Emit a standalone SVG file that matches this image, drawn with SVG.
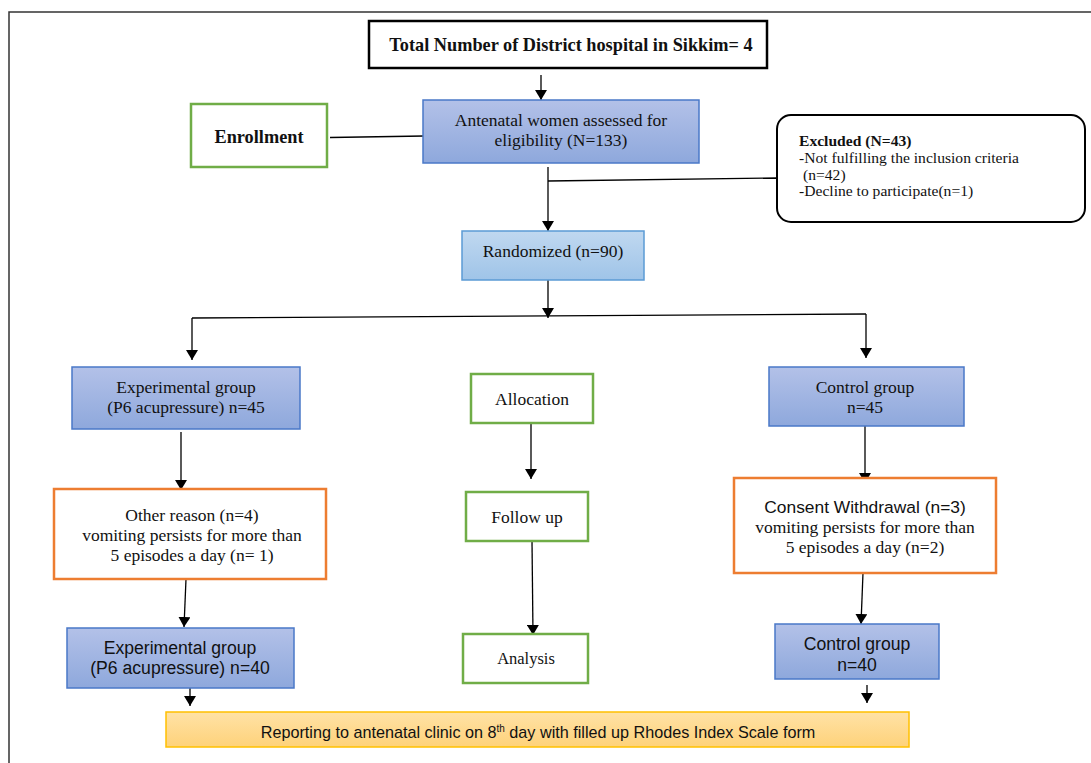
<svg xmlns="http://www.w3.org/2000/svg" width="1091" height="763" viewBox="0 0 1091 763">
<defs>
<linearGradient id="gBlue" x1="0" y1="0" x2="0" y2="1"><stop offset="0" stop-color="#b3c1e8"/><stop offset="1" stop-color="#8ea8dc"/></linearGradient>
<linearGradient id="gLight" x1="0" y1="0" x2="0" y2="1"><stop offset="0" stop-color="#c0d8f0"/><stop offset="1" stop-color="#9fc4e8"/></linearGradient>
<linearGradient id="gYellow" x1="0" y1="0" x2="0" y2="1"><stop offset="0" stop-color="#ffe2a6"/><stop offset="1" stop-color="#fed27a"/></linearGradient>
<marker id="arr" viewBox="0 0 10 12" refX="10" refY="6" markerWidth="10" markerHeight="12" markerUnits="userSpaceOnUse" orient="auto"><path d="M0,0 L10,6 L0,12 Z" fill="#000"/></marker>
</defs>
<style>
.serif{font-family:"Liberation Serif","Times New Roman",serif;font-size:17.5px;fill:#111;text-anchor:middle}
.bold{font-weight:bold;font-size:18.3px}
.sans{font-family:"Liberation Sans",Arial,sans-serif;fill:#111;text-anchor:middle;font-size:17.6px}
.blue{fill:url(#gBlue);stroke:#4a78c8;stroke-width:1.5}
.light{fill:url(#gLight);stroke:#5b9bd5;stroke-width:1.5}
.green{fill:#fff;stroke:#70ad47;stroke-width:2.5}
.orange{fill:#fff;stroke:#ed7d31;stroke-width:2.5}
.conn line{stroke:#000;stroke-width:1.3}
.arrow{marker-end:url(#arr)}
.exc{font-family:"Liberation Serif","Times New Roman",serif;font-size:15.6px;fill:#111}
</style>
<rect width="1091" height="763" fill="#fff"/>
<path d="M9,763 V12 H1091" fill="none" stroke="#333" stroke-width="1.5"/>

<g id="connectors" class="conn">
<line class="arrow" x1="541" y1="75" x2="541" y2="100"/>
<line x1="330" y1="137.5" x2="424" y2="136" stroke="#444"/>
<line class="arrow" x1="548" y1="167" x2="548" y2="231"/>
<line x1="548" y1="181" x2="777" y2="178" stroke="#444"/>
<line class="arrow" x1="548" y1="280" x2="548" y2="318"/>
<line x1="192" y1="318" x2="866" y2="314"/>
<line class="arrow" x1="192" y1="318" x2="192" y2="360"/>
<line class="arrow" x1="866" y1="314" x2="866" y2="358"/>
<line class="arrow" x1="181" y1="432" x2="181" y2="490"/>
<line class="arrow" x1="531" y1="423" x2="531" y2="479"/>
<line class="arrow" x1="865" y1="426" x2="865" y2="483"/>
<line class="arrow" x1="186" y1="579" x2="184" y2="627"/>
<line class="arrow" x1="532" y1="541" x2="533" y2="635"/>
<line class="arrow" x1="863" y1="573" x2="861" y2="624"/>
<line class="arrow" x1="190" y1="688" x2="190" y2="706"/>
<line class="arrow" x1="867" y1="685" x2="867" y2="703"/>
</g>

<g id="total">
<rect x="369" y="21" width="398" height="47" fill="#fff" stroke="#000" stroke-width="2.5"/>
<text class="serif bold" x="571" y="51">Total Number of District hospital in Sikkim= 4</text>
</g>

<g id="enrollment">
<rect class="green" x="191" y="104" width="136" height="63"/>
<text class="serif bold" x="259" y="143">Enrollment</text>
</g>

<g id="assessed">
<rect class="blue" x="423" y="100" width="276" height="63"/>
<text class="serif" x="561" y="126">Antenatal women assessed for</text>
<text class="serif" x="561" y="146">eligibility (N=133)</text>
</g>

<g id="excluded">
<rect x="777" y="115" width="308" height="107" rx="14" fill="#fff" stroke="#000" stroke-width="2"/>
<text class="exc" x="799" y="146" font-weight="bold">Excluded (N=43)</text>
<text class="exc" x="799" y="163">-Not fulfilling the inclusion criteria</text>
<text class="exc" x="803" y="180">(n=42)</text>
<text class="exc" x="799" y="196">-Decline to participate(n=1)</text>
</g>

<g id="randomized">
<rect class="light" x="462" y="231" width="182" height="49"/>
<text class="serif" x="553" y="257">Randomized (n=90)</text>
</g>

<g id="exp45">
<rect class="blue" x="72" y="367" width="228" height="62"/>
<text class="serif" x="186" y="393">Experimental group</text>
<text class="serif" x="186" y="413">(P6 acupressure) n=45</text>
</g>

<g id="allocation">
<rect class="green" x="471" y="374" width="122" height="49"/>
<text class="serif" x="532" y="405">Allocation</text>
</g>

<g id="ctrl45">
<rect class="blue" x="769" y="367" width="195" height="59"/>
<text class="serif" x="865" y="393">Control group</text>
<text class="serif" x="865" y="413">n=45</text>
</g>

<g id="otherreason">
<rect class="orange" x="54" y="489" width="272" height="90"/>
<text class="serif" x="192" y="521">Other reason (n=4)</text>
<text class="serif" x="192" y="541">vomiting persists for more than</text>
<text class="serif" x="192" y="561">5 episodes a day (n= 1)</text>
</g>

<g id="followup">
<rect class="green" x="466" y="492" width="122" height="49"/>
<text class="serif" x="527" y="523">Follow up</text>
</g>

<g id="consent">
<rect class="orange" x="734" y="478" width="262" height="95"/>
<text class="sans" x="865" y="513" style="font-size:17.4px">Consent Withdrawal (n=3)</text>
<text class="serif" x="865" y="533">vomiting persists for more than</text>
<text class="serif" x="865" y="553">5 episodes a day (n=2)</text>
</g>

<g id="exp40">
<rect class="blue" x="67" y="628" width="227" height="60"/>
<text class="sans" x="180" y="654">Experimental group</text>
<text class="sans" x="180" y="674">(P6 acupressure) n=40</text>
</g>

<g id="analysis">
<rect class="green" x="463" y="634" width="125" height="49"/>
<text class="serif" x="526" y="664" style="font-size:16.5px">Analysis</text>
</g>

<g id="ctrl40">
<rect class="blue" x="775" y="624" width="164" height="55"/>
<text class="sans" x="857" y="650">Control group</text>
<text class="sans" x="857" y="671">n=40</text>
</g>

<g id="reporting">
<rect x="166" y="712" width="743" height="35" fill="url(#gYellow)" stroke="#ffc000" stroke-width="1.5"/>
<text class="sans" x="538" y="737.5" style="font-size:16.2px">Reporting to antenatal clinic on 8<tspan style="font-size:10px" dy="-6">th</tspan><tspan dy="6"> day with filled up Rhodes Index Scale form</tspan></text>
</g>
</svg>
